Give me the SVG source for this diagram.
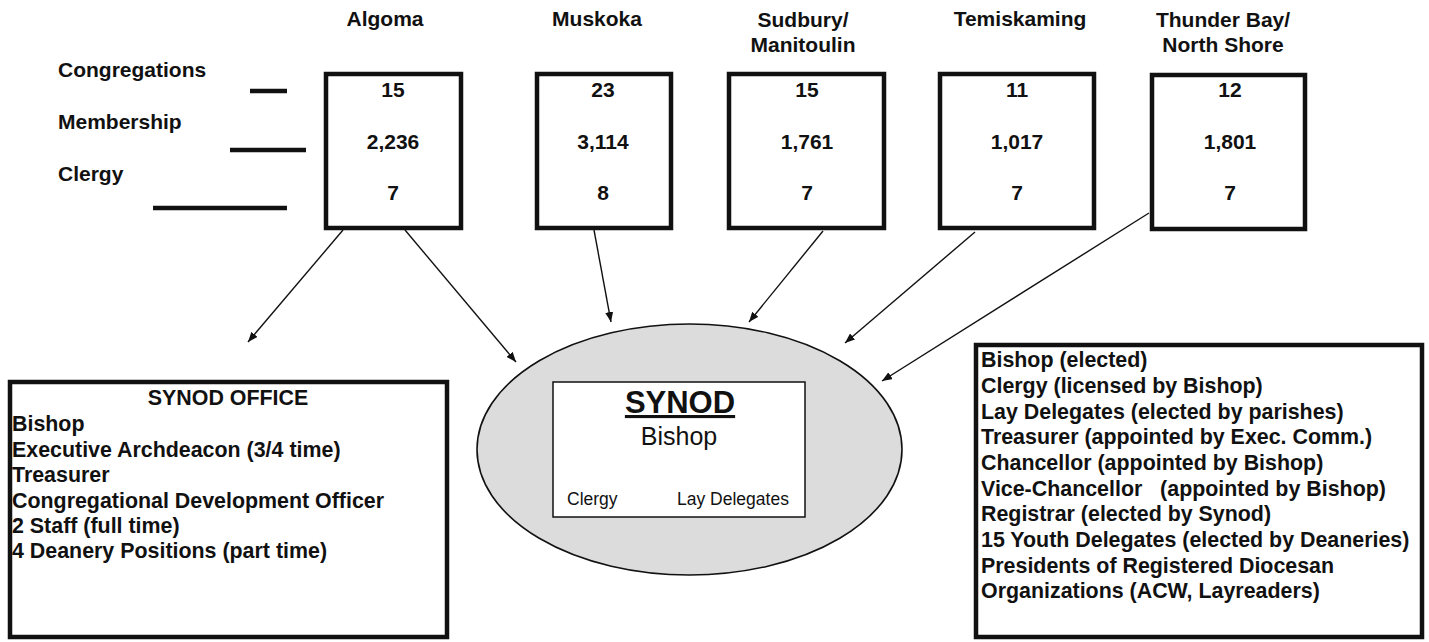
<svg xmlns="http://www.w3.org/2000/svg" width="1429" height="642" viewBox="0 0 1429 642">
<style>
text{font-family:"Liberation Sans",Arial,sans-serif;fill:#111}
.b{font-weight:bold;font-size:21px}
.l{font-size:21.4px}
.c{text-anchor:middle}
.box{fill:#fff;stroke:#111;stroke-width:4.5}
.dash{stroke:#111;stroke-width:4.5}
.arr{stroke:#111;stroke-width:1.4;fill:none;marker-end:url(#ah)}
</style>
<defs>
<marker id="ah" viewBox="0 0 10 8" refX="10" refY="4" markerWidth="10" markerHeight="8" markerUnits="userSpaceOnUse" orient="auto">
<path d="M0,0 L10,4 L0,8 Z" fill="#111"/>
</marker>
</defs>
<rect width="1429" height="642" fill="#fff"/>

<g id="legend">
<text class="b" x="58" y="77">Congregations</text>
<text class="b" x="58" y="129">Membership</text>
<text class="b" x="58" y="181">Clergy</text>
<line class="dash" x1="250" y1="91" x2="287" y2="91"/>
<line class="dash" x1="230" y1="150" x2="306" y2="150"/>
<line class="dash" x1="153" y1="208" x2="287" y2="208"/>
</g>

<g id="algoma">
<text class="b c" x="385" y="26">Algoma</text>
<rect class="box" x="326" y="74" width="135" height="154"/>
<text class="b c" x="393" y="97">15</text>
<text class="b c" x="393" y="149">2,236</text>
<text class="b c" x="393" y="200">7</text>
</g>

<g id="muskoka">
<text class="b c" x="597" y="26">Muskoka</text>
<rect class="box" x="537" y="74" width="134" height="154"/>
<text class="b c" x="603" y="97">23</text>
<text class="b c" x="603" y="149">3,114</text>
<text class="b c" x="603" y="200">8</text>
</g>

<g id="sudbury">
<text class="b c" x="803" y="27">Sudbury/</text>
<text class="b c" x="803" y="52">Manitoulin</text>
<rect class="box" x="729" y="74" width="155" height="154"/>
<text class="b c" x="807" y="97">15</text>
<text class="b c" x="807" y="149">1,761</text>
<text class="b c" x="807" y="200">7</text>
</g>

<g id="temiskaming">
<text class="b c" x="1020" y="26">Temiskaming</text>
<rect class="box" x="940" y="74" width="154" height="154"/>
<text class="b c" x="1017" y="97">11</text>
<text class="b c" x="1017" y="149">1,017</text>
<text class="b c" x="1017" y="200">7</text>
</g>

<g id="thunderbay">
<text class="b c" x="1223" y="27">Thunder Bay/</text>
<text class="b c" x="1223" y="52">North Shore</text>
<rect class="box" x="1152" y="75" width="153" height="154"/>
<text class="b c" x="1230" y="97">12</text>
<text class="b c" x="1230" y="149">1,801</text>
<text class="b c" x="1230" y="200">7</text>
</g>

<g id="connectors">
<line class="arr" x1="343" y1="230" x2="248" y2="342"/>
<line class="arr" x1="405" y1="230" x2="516" y2="362"/>
<line class="arr" x1="594" y1="230" x2="611" y2="322"/>
<line class="arr" x1="823" y1="231" x2="749" y2="322"/>
<line class="arr" x1="975" y1="232" x2="845" y2="343"/>
<line class="arr" x1="1149" y1="213" x2="882" y2="381"/>
</g>

<g id="synod-office">
<rect class="box" x="10" y="382" width="437" height="255"/>
<text class="b c l" x="228" y="405">SYNOD OFFICE</text>
<text class="b l" x="12" y="431">Bishop</text>
<text class="b l" x="12" y="456.5">Executive Archdeacon (3/4 time)</text>
<text class="b l" x="12" y="482">Treasurer</text>
<text class="b l" x="12" y="507.5">Congregational Development Officer</text>
<text class="b l" x="12" y="533">2 Staff (full time)</text>
<text class="b l" x="12" y="558">4 Deanery Positions (part time)</text>
</g>

<g id="synod">
<ellipse cx="689.5" cy="449.5" rx="212.5" ry="125.5" fill="#dcdcdc" stroke="#111" stroke-width="1.6"/>
<rect x="553" y="382" width="252" height="135" fill="#fff" stroke="#111" stroke-width="1.5"/>
<text class="c" x="680" y="413" font-size="31" font-weight="bold" text-decoration="underline">SYNOD</text>
<text class="c" x="679" y="445" font-size="25">Bishop</text>
<text x="567" y="505" font-size="17.5">Clergy</text>
<text x="677" y="505" font-size="17.5">Lay Delegates</text>
</g>

<g id="synod-members">
<rect class="box" x="976" y="345" width="446" height="292"/>
<text class="b l" x="981" y="367">Bishop (elected)</text>
<text class="b l" x="981" y="393">Clergy (licensed by Bishop)</text>
<text class="b l" x="981" y="418.5">Lay Delegates (elected by parishes)</text>
<text class="b l" x="981" y="444">Treasurer (appointed by Exec. Comm.)</text>
<text class="b l" x="981" y="470">Chancellor (appointed by Bishop)</text>
<text class="b l" x="981" y="495.5" xml:space="preserve">Vice-Chancellor   (appointed by Bishop)</text>
<text class="b l" x="981" y="521">Registrar (elected by Synod)</text>
<text class="b l" x="981" y="547">15 Youth Delegates (elected by Deaneries)</text>
<text class="b l" x="981" y="572.5">Presidents of Registered Diocesan</text>
<text class="b l" x="981" y="598">Organizations (ACW, Layreaders)</text>
</g>
</svg>
